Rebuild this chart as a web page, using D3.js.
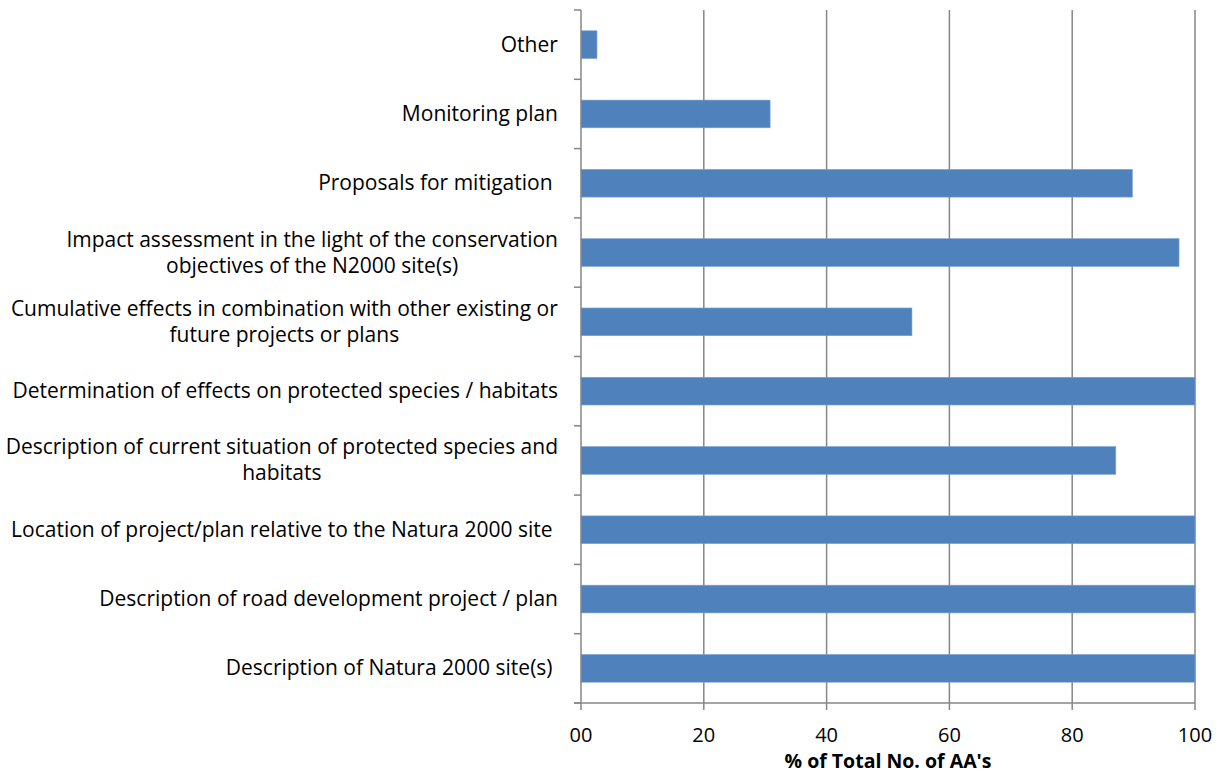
<!DOCTYPE html>
<html><head><meta charset="utf-8">
<script src="https://cdn.jsdelivr.net/npm/d3@7"></script>
<style>
body{margin:0;background:#fff;}
svg text{font-family:"Open Sans",sans-serif;fill:#000;white-space:pre;}
</style></head>
<body><svg id="c" width="1226" height="774"></svg>
<script>
const categories = [
  ["Other"],
  ["Monitoring plan"],
  ["Proposals for mitigation "],
  ["Impact assessment in the light of the conservation","objectives of the N2000 site(s)"],
  ["Cumulative effects in combination with other existing or","future projects or plans"],
  ["Determination of effects on protected species / habitats"],
  ["Description of current situation of protected species and","habitats"],
  ["Location of project/plan relative to the Natura 2000 site "],
  ["Description of road development project / plan"],
  ["Description of Natura 2000 site(s) "]
];
const values = [2.6, 30.8, 89.8, 97.4, 53.9, 100, 87.1, 100, 100, 100];
const xTicks = [0, 20, 40, 60, 80, 100];
const xTickLabels = ["00", "20", "40", "60", "80", "100"];
const xTitle = "% of Total No. of AA's";

const svg = d3.select("#c");
const L = 581, R = 1195, T = 10, B = 703;
const x = d3.scaleLinear().domain([0,100]).range([L,R]);
const y = d3.scaleBand().domain(d3.range(categories.length)).range([T,B]).paddingInner(0.6).paddingOuter(0.3);
const yb = d3.scaleBand().domain(d3.range(categories.length)).range([T,B]);
const grey = "#868686";

// gridlines
svg.append("g").selectAll("line").data(xTicks.slice(1)).join("line")
  .attr("x1",d=>x(d)).attr("x2",d=>x(d)).attr("y1",T).attr("y2",B+7)
  .attr("stroke",grey).attr("stroke-width",1.5);

// bars
svg.append("g").selectAll("rect").data(values).join("rect")
  .attr("x",L).attr("y",(d,i)=>y(i)).attr("width",d=>x(d)-L).attr("height",y.bandwidth())
  .attr("fill","#4F81BD").attr("stroke","#7EA1CF").attr("stroke-width",0.6);

// y axis
svg.append("line").attr("x1",L).attr("x2",L).attr("y1",T).attr("y2",B+7).attr("stroke",grey).attr("stroke-width",1.5);
svg.append("g").selectAll("line").data(d3.range(categories.length+1)).join("line")
  .attr("x1",L-7).attr("x2",L).attr("y1",d=>T+d*yb.step()).attr("y2",d=>T+d*yb.step())
  .attr("stroke",grey).attr("stroke-width",1.5);
// x axis
svg.append("line").attr("x1",L-7).attr("x2",R).attr("y1",B).attr("y2",B).attr("stroke",grey).attr("stroke-width",1.5);

// x tick labels
svg.append("g").selectAll("text").data(xTicks).join("text")
  .attr("x",d=>x(d)).attr("y",742).attr("text-anchor","middle")
  .style("font-size","20px").text((d,i)=>xTickLabels[i]);
svg.append("text").attr("x",(L+R)/2).attr("y",768).attr("text-anchor","middle")
  .style("font-size","19.5px").style("font-weight","bold").text(xTitle);

// y labels
const lh = 26;
const lab = svg.append("g");
categories.forEach((lines,i)=>{
  const cy = yb(i)+yb.bandwidth()/2;
  const g = lab.append("g");
  const t = g.append("text").style("font-size","21px").attr("text-anchor","middle");
  lines.forEach((s,k)=>{
    t.append("tspan").attr("x",0).attr("y",cy + (k-(lines.length-1)/2)*lh + 7).text(s);
  });
  const bb = t.node().getBBox();
  g.attr("transform",`translate(${558 - bb.width/2},0)`);
});
</script></body></html>
